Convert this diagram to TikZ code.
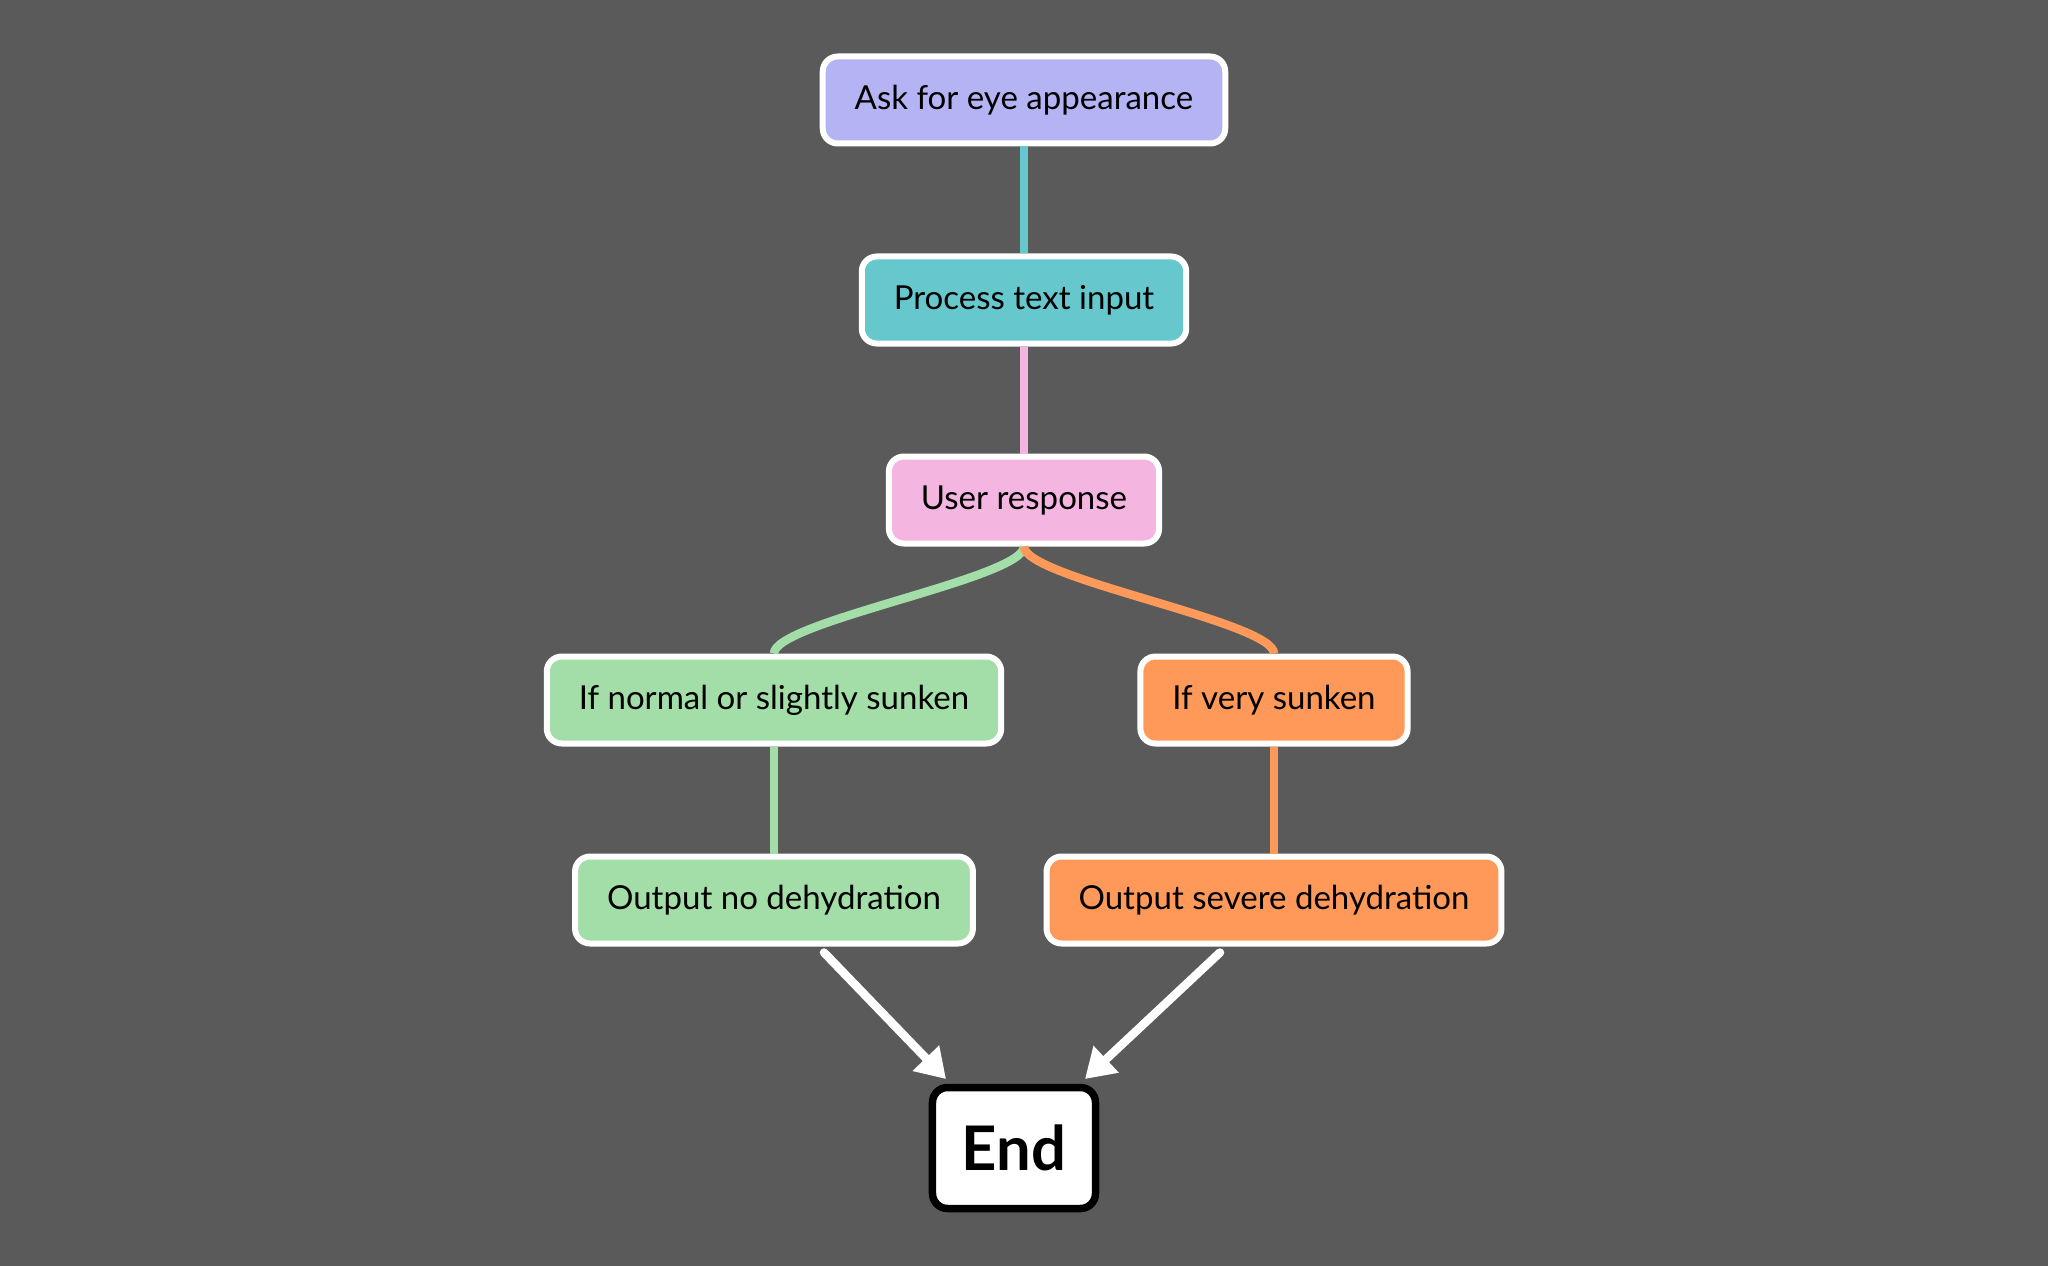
\documentclass[tikz,border=0pt]{standalone}
\usepackage{fontspec}
\setmainfont{Lato}
\usetikzlibrary{positioning}
\usetikzlibrary{arrows.meta}
\definecolor{bgc}{HTML}{5A5A5A}
\definecolor{lavc}{HTML}{B4B4F5}
\definecolor{tealc}{HTML}{66C8CC}
\definecolor{pinkc}{HTML}{F4B6E0}
\definecolor{greenc}{HTML}{A3DEA8}
\definecolor{orangec}{HTML}{FF995A}
\tikzset{	node distance=4cm,
	box/.style={
		draw=white,
		line width=0.12cm,
		rounded corners=0.3cm,
		minimum height=1.74cm,
		inner xsep=0.64cm,
		text=black,
		font=\fontsize{18.8}{22}\selectfont},
	endbox/.style={
		draw=black,
		fill=white,
		line width=0.15cm,
		rounded corners=0.3cm,
		minimum width=3.26cm,
		minimum height=2.42cm,
		font=\fontsize{35}{40}\selectfont\bfseries},
	link/.style={
		draw,
		line width=0.17cm},
	arrow/.style={
		draw=white,
		line width=0.17cm,
		line cap=round,
		-{Triangle[length=0.58cm,width=0.7cm]}}
}

\begin{document}
\begin{tikzpicture}
	\fill[bgc] (-20.48,2) rectangle (20.48,-23.32);
	\useasboundingbox (-20.48,2) rectangle (20.48,-23.32);
	
	\node[box, fill=lavc] (ask) {Ask for eye appearance};
	\node[box, fill=tealc, below of = ask] (proc) {Process text input};
	\node[box, fill=pinkc, below of = proc] (resp) {User response};
	\node[box, fill=greenc, below of = resp, xshift=-5cm] (ifnorm) {If normal or slightly sunken};
	\node[box, fill=orangec, below of = resp, xshift=5cm] (ifsunk) {If very sunken};
	\node[box, fill=greenc, below of = ifnorm] (outno) {Output no dehydration};
	\node[box, fill=orangec, below of = ifsunk] (outsev) {Output severe dehydration};
	\node[endbox, below of = resp, node distance=12.96cm, xshift=-0.2cm] (endn) {End};
	
	\draw (ask) edge[link, tealc] (proc);
	\draw (proc) edge[link, pinkc] (resp);
	
	\draw (resp) edge[link, greenc, out=-90, in=90, looseness=0.3] (ifnorm);
	\draw (resp) edge[link, orangec, out=-90, in=90, looseness=0.3] (ifsunk);
	
	\draw (ifnorm) edge[link, greenc] (outno);
	\draw (ifsunk) edge[link, orangec] (outsev);
	
	\draw ([xshift=1cm, yshift=-0.12cm]outno.south) edge[arrow] ([xshift=0.345cm, yshift=0.095cm]endn.north west);
	\draw ([xshift=-1.08cm, yshift=-0.12cm]outsev.south) edge[arrow] ([xshift=-0.285cm, yshift=0.095cm]endn.north east);
	
\end{tikzpicture}
\end{document}
